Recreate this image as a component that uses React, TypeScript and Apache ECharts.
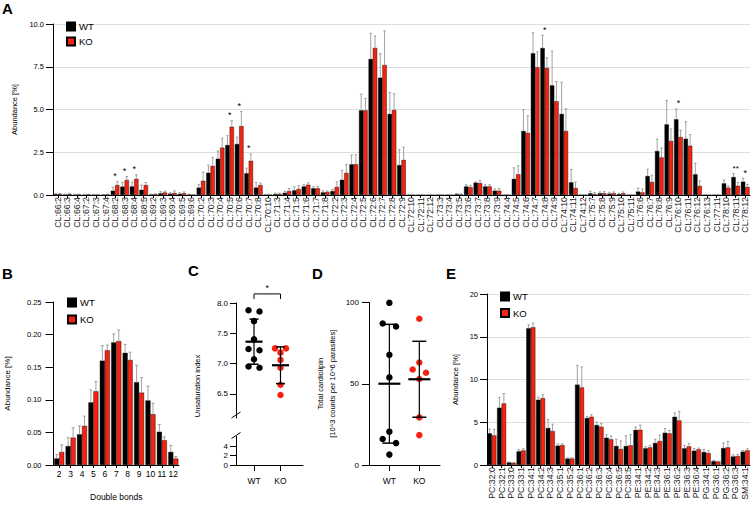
import React, { useEffect, useRef } from 'react';
import * as echarts from 'echarts';

const FONT = '"Liberation Sans", Arial, Helvetica, sans-serif';
const RED = '#f42210';
const BLACK = '#000000';
const ERR = '#8c8c8c';

// ---------- Panel A: cardiolipin species ----------
const clCategories = [
  'CL:66:2', 'CL:66:3', 'CL:66:4', 'CL:67:2', 'CL:67:3', 'CL:67:4', 'CL:68:2', 'CL:68:3', 'CL:68:4', 'CL:68:5',
  'CL:69:2', 'CL:69:3', 'CL:69:4', 'CL:69:5', 'CL:69:6', 'CL:70:2', 'CL:70:3', 'CL:70:4', 'CL:70:5', 'CL:70:6',
  'CL:70:7', 'CL:70:8', 'CL:70:10', 'CL:71:3', 'CL:71:4', 'CL:71:5', 'CL:71:6', 'CL:71:7', 'CL:71:8', 'CL:72:2',
  'CL:72:3', 'CL:72:4', 'CL:72:5', 'CL:72:6', 'CL:72:7', 'CL:72:8', 'CL:72:9', 'CL:72:10', 'CL:72:11', 'CL:72:12',
  'CL:73:3', 'CL:73:4', 'CL:73:5', 'CL:73:6', 'CL:73:7', 'CL:73:8', 'CL:73:9', 'CL:74:4', 'CL:74:5', 'CL:74:6',
  'CL:74:7', 'CL:74:8', 'CL:74:9', 'CL:74:10', 'CL:74:11', 'CL:74:12', 'CL:75:7', 'CL:75:8', 'CL:75:9', 'CL:75:10',
  'CL:75:11', 'CL:76:6', 'CL:76:7', 'CL:76:8', 'CL:76:9', 'CL:76:10', 'CL:76:11', 'CL:76:12', 'CL:76:13', 'CL:77:11',
  'CL:78:10', 'CL:78:11', 'CL:78:12',
];
const clWT = [
  0.05, 0.03, 0.02, 0.02, 0.02, 0.02, 0.25, 0.49, 0.5, 0.3,
  0.03, 0.1, 0.08, 0.07, 0.03, 0.43, 1.3, 2.12, 2.92, 2.98,
  1.27, 0.43, 0.02, 0.05, 0.13, 0.27, 0.5, 0.39, 0.15, 0.23,
  0.89, 1.79, 4.95, 7.95, 6.86, 4.74, 1.75, 0, 0, 0,
  0, 0, 0.05, 0.5, 0.72, 0.5, 0.25, 0, 0.94, 3.74,
  8.29, 8.6, 6.41, 4.74, 0.74, 0, 0.1, 0.1, 0.08, 0.05,
  0, 0.2, 1.11, 2.57, 4.13, 4.43, 3.29, 1.21, 0, 0,
  0.68, 1.05, 0.78,
];
const clKO = [
  0.06, 0.05, 0.03, 0.03, 0.02, 0.03, 0.58, 0.88, 0.94, 0.58,
  0.05, 0.15, 0.12, 0.1, 0.02, 0.83, 1.7, 2.77, 3.99, 4.03,
  2.0, 0.58, 0.02, 0.06, 0.23, 0.35, 0.6, 0.39, 0.18, 0.47,
  1.29, 1.8, 4.95, 8.6, 7.6, 4.97, 2.05, 0, 0, 0,
  0, 0, 0.03, 0.46, 0.7, 0.5, 0.25, 0, 1.21, 3.63,
  7.47, 7.43, 5.48, 3.74, 0.41, 0, 0.05, 0.1, 0.1, 0.1,
  0, 0.15, 0.76, 2.2, 3.16, 3.39, 2.88, 0.53, 0, 0,
  0.43, 0.54, 0.47,
];
const clWTErr = [
  0.03, 0.02, 0.02, 0.01, 0.01, 0.01, 0.2, 0.25, 0.25, 0.28,
  0.02, 0.1, 0.05, 0.06, 0.02, 0.17, 0.45, 0.45, 0.55, 0.4,
  0.3, 0.3, 0.01, 0.05, 0.1, 0.2, 0.12, 0.1, 0.1, 0.1,
  0.55, 0.55, 0.95, 1.5, 1.4, 1.25, 0.9, 0, 0, 0,
  0, 0, 0.04, 0.1, 0.05, 0.1, 0.1, 0, 0.65, 1.25,
  1.2, 0.75, 2.0, 1.85, 0.75, 0, 0.12, 0.08, 0.08, 0.05,
  0, 0.2, 0.4, 0.7, 1.4, 0.6, 1.0, 0.65, 0, 0,
  0.2, 0.2, 0.2,
];
const clKOErr = [
  0.03, 0.05, 0.02, 0.02, 0.01, 0.02, 0.2, 0.2, 0.25, 0.15,
  0.02, 0.08, 0.12, 0.08, 0.01, 0.5, 0.5, 0.55, 0.35, 0.85,
  0.4, 0.12, 0.01, 0.05, 0.15, 0.2, 0.12, 0.1, 0.05, 0.3,
  0.5, 0.55, 0.7, 0.7, 2.0, 0.95, 0.75, 0, 0, 0,
  0, 0, 0.04, 0.1, 0.15, 0.1, 0.12, 0, 0.5, 1.0,
  0.9, 0.6, 1.15, 1.3, 0.35, 0, 0.1, 0.1, 0.08, 0.08,
  0, 0.2, 0.4, 0.55, 0.7, 0.4, 0.65, 0.3, 0, 0,
  0.1, 0.2, 0.15,
];
const clStars: [string, string][] = [
  ['CL:68:2', '*'], ['CL:68:3', '*'], ['CL:68:4', '*'], ['CL:70:5', '*'], ['CL:70:6', '*'],
  ['CL:70:7', '*'], ['CL:74:8', '*'], ['CL:76:10', '*'], ['CL:78:11', '**'], ['CL:78:12', '*'],
];
const clTicks = [0, 2.5, 5, 7.5, 10];

// ---------- Panel B: double bonds ----------
const dbCategories = ['2', '3', '4', '5', '6', '7', '8', '9', '10', '11', '12'];
const dbWT = [0.010, 0.029, 0.047, 0.096, 0.160, 0.188, 0.172, 0.127, 0.099, 0.051, 0.020];
const dbKO = [0.020, 0.042, 0.060, 0.113, 0.176, 0.190, 0.161, 0.111, 0.078, 0.038, 0.010];
const dbWTErr = [0.006, 0.013, 0.013, 0.019, 0.023, 0.013, 0.013, 0.026, 0.022, 0.011, 0.010];
const dbKOErr = [0.011, 0.015, 0.015, 0.015, 0.008, 0.017, 0.012, 0.023, 0.017, 0.005, 0.003];

// ---------- Panel C: unsaturation index ----------
const groups = ['WT', 'KO'];
const unsatWT = [7.88, 7.86, 7.70, 7.40, 7.24, 7.22, 7.07, 6.95, 6.93];
const unsatKO = [7.25, 7.25, 7.18, 7.06, 6.93, 6.65, 6.48];
const unsatUpperTicks = [6.5, 7.0, 7.5, 8.0];
const unsatLowerTicks = [0, 2, 4];

// ---------- Panel D: total cardiolipin ----------
const totalWT = [99.8, 87.1, 85.2, 67.8, 53.9, 20.5, 16.0, 13.5, 6.4];
const totalKO = [90.0, 63.1, 58.8, 56.8, 52.9, 29.3, 18.4];
const totalTicks = [0, 50, 100];

// ---------- Panel E: other lipid species ----------
const lipidCategories = [
  'PC:32:0', 'PC:32:1', 'PC:33:0', 'PC:33:1', 'PC:34:1', 'PC:34:2', 'PC:34:3', 'PC:35:1', 'PC:35:2',
  'PC:36:1', 'PC:36:2', 'PC:36:3', 'PC:36:4', 'PC:36:5', 'PC:38:5', 'PE:34:1', 'PE:34:2', 'PE:34:3',
  'PE:36:1', 'PE:36:2', 'PE:36:3', 'PE:36:4', 'PG:34:1', 'PG:36:1', 'PG:36:2', 'PG:36:3', 'SM:34:1',
];
const lipidWT = [3.7, 6.7, 0.3, 1.6, 16.0, 7.63, 4.32, 2.26, 0.75, 9.4, 5.49, 4.67, 3.19, 2.22, 2.22, 4.1, 1.95, 2.57, 3.77, 5.64, 1.95, 1.67, 1.52, 0.45, 1.98, 1.0, 1.56];
const lipidKO = [3.46, 7.2, 0.25, 1.7, 16.1, 7.82, 3.97, 2.33, 0.75, 9.07, 5.64, 4.47, 3.0, 1.87, 2.3, 4.12, 2.06, 2.8, 3.7, 5.21, 2.18, 1.83, 1.4, 0.4, 2.06, 1.05, 1.71];
const lipidWTErr = [0.5, 1.2, 0.05, 0.2, 0.4, 0.3, 1.0, 0.2, 0.1, 2.25, 0.2, 0.35, 0.35, 0.8, 1.2, 0.35, 0.2, 0.45, 0.5, 0.45, 0.35, 0.25, 0.3, 0.1, 0.6, 0.2, 0.15];
const lipidKOErr = [0.7, 1.15, 0.05, 0.2, 0.5, 0.4, 0.8, 0.15, 0.1, 2.4, 0.25, 0.4, 0.4, 0.95, 1.25, 0.55, 0.25, 0.7, 0.35, 1.05, 0.35, 0.15, 0.3, 0.05, 0.7, 0.2, 0.2];
const lipidTicks = [0, 5, 10, 15, 20];

// ---------- helpers ----------
function mean(a: number[]) {
  return a.reduce((s, v) => s + v, 0) / a.length;
}
function sd(a: number[]) {
  const m = mean(a);
  return Math.sqrt(a.reduce((s, v) => s + (v - m) * (v - m), 0) / (a.length - 1));
}

// simple beeswarm: spreads points with near-equal values sideways
function swarm(values: number[], center: number, pxPerY: number, pxPerX: number, step: number, diam: number) {
  const order = values.map((_, i) => i).sort((a, b) => values[b] - values[a]);
  const placed: { x: number; y: number; i: number }[] = [];
  const off = new Array(values.length).fill(0);
  for (const i of order) {
    const y = values[i] * pxPerY;
    const twin = placed.find((p) => Math.abs(p.y - y) < 4.5 && p.x === 0);
    if (twin) {
      twin.x = -step;
      off[twin.i] = -step;
      placed.push({ x: step, y, i });
      off[i] = step;
      continue;
    }
    let chosen = 0;
    for (const c of [0, -step, step, -2 * step, 2 * step]) {
      if (placed.every((p) => Math.hypot(p.x - c, p.y - y) >= diam)) {
        chosen = c;
        break;
      }
    }
    placed.push({ x: chosen, y, i });
    off[i] = chosen;
  }
  return values.map((v, i) => [center + off[i] / pxPerX, v]);
}

function errorBars(xi: number, yi: number, vals: number[], errs: number[], offset: number, cap: number) {
  return {
    type: 'custom',
    xAxisIndex: xi,
    yAxisIndex: yi,
    silent: true,
    z: 4,
    data: vals.map((v, i) => [i, v, v + errs[i]]),
    encode: { x: 0, y: 1 },
    renderItem: (params: any, api: any) => {
      const i = api.value(0);
      const v = api.value(1);
      const hi = api.value(2);
      if (!(hi > v)) return { type: 'group', children: [] };
      const lo = api.coord([i, v]);
      const top = api.coord([i, hi]);
      const x = lo[0] + offset;
      return {
        type: 'group',
        children: [
          { type: 'line', shape: { x1: x, y1: lo[1], x2: x, y2: top[1] }, style: { stroke: ERR, lineWidth: 0.8 } },
          { type: 'line', shape: { x1: x - cap / 2, y1: top[1], x2: x + cap / 2, y2: top[1] }, style: { stroke: ERR, lineWidth: 0.8 } },
        ],
      };
    },
  };
}

function meanSd(xi: number, yi: number, x: number, vals: number[], meanW: number, capW: number) {
  return {
    type: 'custom',
    xAxisIndex: xi,
    yAxisIndex: yi,
    silent: true,
    z: 5,
    data: [[x, mean(vals), sd(vals)]],
    encode: { x: 0, y: 1 },
    renderItem: (params: any, api: any) => {
      const cx = api.value(0);
      const m = api.value(1);
      const s = api.value(2);
      const c = api.coord([cx, m]);
      const t = api.coord([cx, m + s]);
      const b = api.coord([cx, m - s]);
      const st = { stroke: BLACK, lineWidth: 1.2 };
      return {
        type: 'group',
        children: [
          { type: 'line', shape: { x1: c[0], y1: t[1], x2: c[0], y2: b[1] }, style: st },
          { type: 'line', shape: { x1: c[0] - capW / 2, y1: t[1], x2: c[0] + capW / 2, y2: t[1] }, style: { stroke: BLACK, lineWidth: 1.5 } },
          { type: 'line', shape: { x1: c[0] - capW / 2, y1: b[1], x2: c[0] + capW / 2, y2: b[1] }, style: { stroke: BLACK, lineWidth: 1.5 } },
          { type: 'line', shape: { x1: c[0] - meanW / 2, y1: c[1], x2: c[0] + meanW / 2, y2: c[1] }, style: { stroke: BLACK, lineWidth: 2.2 } },
        ],
      };
    },
  };
}

const axisLineStyle = { show: true, lineStyle: { color: BLACK, width: 1 } };
const tickStyle = (len: number) => ({ show: true, length: len, lineStyle: { color: BLACK, width: 1 } });
const labelStyle = (size: number, margin: number) => ({ color: BLACK, fontSize: size, fontFamily: FONT, margin });
const gridLine = { show: true, lineStyle: { color: '#dedede', width: 1 } };

function buildOption() {
  const wA = 4.3;
  const wB = 5;
  const wE = 4.5;

  const starData = clStars.map(([cat, mark]) => {
    const i = clCategories.indexOf(cat);
    return { idx: i, top: Math.max(clWT[i] + clWTErr[i], clKO[i] + clKOErr[i]), mark };
  });

  const cPxX = 26.5;
  const dPxX = 30;
  const legendText = { fontSize: 9.5, fontFamily: FONT, color: BLACK, padding: [0, 0, 0, -1] };

  return {
    animation: false,
    textStyle: { fontFamily: FONT, color: BLACK },
    legend: [
      { left: 66, top: 21.5, orient: 'vertical', data: ['WT', 'KO'], icon: 'rect', itemWidth: 8, itemHeight: 8, itemGap: 5, padding: 0, selectedMode: false, textStyle: legendText },
      { left: 67, top: 297.5, orient: 'vertical', data: ['WT', 'KO'], icon: 'rect', itemWidth: 8, itemHeight: 8, itemGap: 7, padding: 0, selectedMode: false, textStyle: legendText },
      { left: 500, top: 291.5, orient: 'vertical', data: ['WT', 'KO'], icon: 'rect', itemWidth: 8, itemHeight: 8, itemGap: 6.5, padding: 0, selectedMode: false, textStyle: legendText },
    ],
    grid: [
      { left: 53, top: 24, width: 697, height: 171 },
      { left: 53.5, top: 302, width: 125.5, height: 163 },
      { left: 236, top: 303, width: 67, height: 115 },
      { left: 236, top: 436.5, width: 67, height: 28.5 },
      { left: 369, top: 302.5, width: 71, height: 162.5 },
      { left: 487, top: 294, width: 263, height: 171 },
    ],
    xAxis: [
      {
        gridIndex: 0, type: 'category', data: clCategories,
        axisLine: axisLineStyle, axisTick: { ...tickStyle(3), alignWithLabel: true, interval: 0 },
        axisLabel: { ...labelStyle(8.8, 2), rotate: 90, interval: 0, color: '#222' },
      },
      {
        gridIndex: 1, type: 'category', data: dbCategories, name: 'Double bonds', nameLocation: 'middle', nameGap: 27,
        nameTextStyle: { fontSize: 8.5, fontFamily: FONT, color: BLACK },
        axisLine: axisLineStyle, axisTick: { ...tickStyle(3), alignWithLabel: true, interval: 0 },
        axisLabel: { ...labelStyle(8.5, 4), interval: 0 },
      },
      { gridIndex: 2, type: 'value', min: 0.32, max: 2.85, show: false },
      {
        gridIndex: 3, type: 'value', min: 0.32, max: 2.85,
        axisLine: axisLineStyle, splitLine: { show: false },
        axisTick: { ...tickStyle(6), customValues: [1, 2] },
        axisLabel: { ...labelStyle(8.5, 11), customValues: [1, 2], formatter: (v: number) => groups[Math.round(v) - 1] ?? '' },
      },
      {
        gridIndex: 4, type: 'value', min: 0.32, max: 2.69,
        axisLine: axisLineStyle, splitLine: { show: false },
        axisTick: { ...tickStyle(6), customValues: [1, 2] },
        axisLabel: { ...labelStyle(8.5, 11), customValues: [1, 2], formatter: (v: number) => groups[Math.round(v) - 1] ?? '' },
      },
      {
        gridIndex: 5, type: 'category', data: lipidCategories,
        axisLine: axisLineStyle, axisTick: { ...tickStyle(3), alignWithLabel: true, interval: 0 },
        axisLabel: { ...labelStyle(8.8, 2), rotate: 90, interval: 0, color: '#222' },
      },
    ],
    yAxis: [
      {
        gridIndex: 0, type: 'value', min: 0, max: 10, interval: 2.5,
        name: 'Abundance [%]', nameLocation: 'middle', nameGap: 34,
        nameTextStyle: { fontSize: 7.5, fontFamily: FONT, color: BLACK },
        axisLine: axisLineStyle, axisTick: tickStyle(7), splitLine: gridLine,
        axisLabel: { ...labelStyle(7.5, 9), customValues: clTicks, formatter: (v: number) => v.toFixed(1) },
      },
      {
        gridIndex: 1, type: 'value', min: 0, max: 0.25, interval: 0.05,
        name: 'Abundance [%]', nameLocation: 'middle', nameGap: 42,
        nameTextStyle: { fontSize: 8, fontFamily: FONT, color: BLACK },
        axisLine: axisLineStyle, axisTick: tickStyle(8), splitLine: { show: false },
        axisLabel: { ...labelStyle(7.5, 12), formatter: (v: number) => v.toFixed(2) },
      },
      {
        gridIndex: 2, type: 'value', min: 6.1, max: 8.0,
        axisLine: axisLineStyle, splitLine: { show: false },
        axisTick: { ...tickStyle(6), customValues: unsatUpperTicks },
        axisLabel: { ...labelStyle(8, 8), customValues: unsatUpperTicks, formatter: (v: number) => v.toFixed(1) },
      },
      {
        gridIndex: 3, type: 'value', min: 0, max: 6,
        axisLine: axisLineStyle, splitLine: { show: false },
        axisTick: { ...tickStyle(6), customValues: unsatLowerTicks },
        axisLabel: { ...labelStyle(8, 8), customValues: unsatLowerTicks, formatter: (v: number) => String(v) },
      },
      {
        gridIndex: 4, type: 'value', min: 0, max: 100, interval: 50,
        name: 'Total cardiolipin\n[10^3 counts per 10^6 parasites]', nameLocation: 'middle', nameGap: 31,
        nameTextStyle: { fontSize: 7.5, fontFamily: FONT, color: BLACK, lineHeight: 12 },
        axisLine: axisLineStyle, axisTick: { ...tickStyle(7), customValues: totalTicks }, splitLine: { show: false },
        axisLabel: { ...labelStyle(8, 10), customValues: totalTicks },
      },
      {
        gridIndex: 5, type: 'value', min: 0, max: 20, interval: 5,
        name: 'Abundance [%]', nameLocation: 'middle', nameGap: 28,
        nameTextStyle: { fontSize: 7.5, fontFamily: FONT, color: BLACK },
        axisLine: axisLineStyle, axisTick: { ...tickStyle(7), customValues: lipidTicks }, splitLine: gridLine,
        axisLabel: { ...labelStyle(7.5, 9), customValues: lipidTicks },
      },
    ],
    series: [
      // Panel A
      { type: 'bar', name: 'WT', xAxisIndex: 0, yAxisIndex: 0, data: clWT, barWidth: wA, barGap: '0%', itemStyle: { color: BLACK, borderColor: BLACK, borderWidth: 0.4 } },
      { type: 'bar', name: 'KO', xAxisIndex: 0, yAxisIndex: 0, data: clKO, barWidth: wA, barGap: '0%', itemStyle: { color: RED, borderColor: BLACK, borderWidth: 0.4 } },
      errorBars(0, 0, clWT, clWTErr, -wA / 2, 2.5),
      errorBars(0, 0, clKO, clKOErr, wA / 2, 2.5),
      {
        type: 'custom', xAxisIndex: 0, yAxisIndex: 0, silent: true, z: 6,
        data: starData.map((s) => [s.idx, s.top]),
        encode: { x: 0, y: 1 },
        renderItem: (params: any, api: any) => {
          const c = api.coord([api.value(0), api.value(1)]);
          const mark = starData[params.dataIndex].mark;
          return {
            type: 'text', x: c[0], y: c[1] - 1,
            style: { text: mark, fill: BLACK, fontSize: mark.length > 1 ? 8 : 9, fontFamily: FONT, align: 'center', verticalAlign: 'bottom' },
          };
        },
      },
      // Panel B
      { type: 'bar', name: 'WT', xAxisIndex: 1, yAxisIndex: 1, data: dbWT, barWidth: wB, barGap: '0%', itemStyle: { color: BLACK, borderColor: BLACK, borderWidth: 0.4 } },
      { type: 'bar', name: 'KO', xAxisIndex: 1, yAxisIndex: 1, data: dbKO, barWidth: wB, barGap: '0%', itemStyle: { color: RED, borderColor: BLACK, borderWidth: 0.4 } },
      errorBars(1, 1, dbWT, dbWTErr, -wB / 2, 3),
      errorBars(1, 1, dbKO, dbKOErr, wB / 2, 3),
      // Panel C
      {
        type: 'scatter', name: 'WT-pts', xAxisIndex: 2, yAxisIndex: 2, symbolSize: 6.5, z: 3,
        data: swarm(unsatWT, 1, 60.5, cPxX, 5.5, 6),
        itemStyle: { color: BLACK, opacity: 1 },
      },
      {
        type: 'scatter', name: 'KO-pts', xAxisIndex: 2, yAxisIndex: 2, symbolSize: 6.5, z: 3,
        data: swarm(unsatKO, 2, 60.5, cPxX, 5.5, 6),
        itemStyle: { color: RED, opacity: 1 },
      },
      meanSd(2, 2, 1, unsatWT, 17, 9),
      meanSd(2, 2, 2, unsatKO, 17, 9),
      {
        type: 'custom', xAxisIndex: 2, yAxisIndex: 2, silent: true, z: 6, clip: false,
        data: [[1, 2, 8.15]],
        renderItem: (params: any, api: any) => {
          const p1 = api.coord([api.value(0), api.value(2)]);
          const p2 = api.coord([api.value(1), api.value(2)]);
          return {
            type: 'group',
            children: [
              { type: 'polyline', shape: { points: [[p1[0], p1[1] + 5], [p1[0], p1[1]], [p2[0], p2[1]], [p2[0], p2[1] + 5]] }, style: { stroke: BLACK, lineWidth: 1, fill: 'none' } },
              { type: 'text', x: (p1[0] + p2[0]) / 2, y: p1[1] - 1, style: { text: '*', fill: BLACK, fontSize: 9, fontFamily: FONT, align: 'center', verticalAlign: 'bottom' } },
            ],
          };
        },
      },
      // Panel D
      {
        type: 'scatter', name: 'WT-tot', xAxisIndex: 4, yAxisIndex: 4, symbolSize: 6.5, z: 3,
        data: swarm(totalWT, 1, 1.625, dPxX, 6.7, 6),
        itemStyle: { color: BLACK, opacity: 1 },
      },
      {
        type: 'scatter', name: 'KO-tot', xAxisIndex: 4, yAxisIndex: 4, symbolSize: 6.5, z: 3,
        data: swarm(totalKO, 2, 1.625, dPxX, 6.7, 6),
        itemStyle: { color: RED, opacity: 1 },
      },
      meanSd(4, 4, 1, totalWT, 22, 14),
      meanSd(4, 4, 2, totalKO, 22, 14),
      // Panel E
      { type: 'bar', name: 'WT', xAxisIndex: 5, yAxisIndex: 5, data: lipidWT, barWidth: wE, barGap: '0%', itemStyle: { color: BLACK, borderColor: BLACK, borderWidth: 0.4 } },
      { type: 'bar', name: 'KO', xAxisIndex: 5, yAxisIndex: 5, data: lipidKO, barWidth: wE, barGap: '0%', itemStyle: { color: RED, borderColor: BLACK, borderWidth: 0.4 } },
      errorBars(5, 5, lipidWT, lipidWTErr, -wE / 2, 2.5),
      errorBars(5, 5, lipidKO, lipidKOErr, wE / 2, 2.5),
    ],
    graphic: [
      { type: 'text', x: 2, y: 1, style: { text: 'A', fontSize: 15, fontWeight: 'bold', fontFamily: FONT, fill: BLACK } },
      { type: 'text', x: 2, y: 266, style: { text: 'B', fontSize: 15, fontWeight: 'bold', fontFamily: FONT, fill: BLACK } },
      { type: 'text', x: 188, y: 263, style: { text: 'C', fontSize: 15, fontWeight: 'bold', fontFamily: FONT, fill: BLACK } },
      { type: 'text', x: 312, y: 266, style: { text: 'D', fontSize: 15, fontWeight: 'bold', fontFamily: FONT, fill: BLACK } },
      { type: 'text', x: 446, y: 266, style: { text: 'E', fontSize: 15, fontWeight: 'bold', fontFamily: FONT, fill: BLACK } },
      {
        type: 'text', x: 197, y: 386, rotation: Math.PI / 2,
        style: { text: 'Unsaturation index', fontSize: 7.5, fontFamily: FONT, fill: BLACK, align: 'center', verticalAlign: 'middle' },
      },
      { type: 'line', shape: { x1: 231.5, y1: 418, x2: 240.5, y2: 412 }, style: { stroke: BLACK, lineWidth: 1 } },
      { type: 'line', shape: { x1: 231.5, y1: 438.5, x2: 240.5, y2: 432.5 }, style: { stroke: BLACK, lineWidth: 1 } },
    ],
  };
}

export default function App() {
  const ref = useRef<HTMLDivElement>(null);
  useEffect(() => {
    document.body.style.margin = '0';
    const chart = echarts.init(ref.current!, null, { renderer: 'svg' });
    chart.setOption(buildOption() as any);
    return () => chart.dispose();
  }, []);
  return <div ref={ref} style={{ width: 752, height: 505 }} />;
}
